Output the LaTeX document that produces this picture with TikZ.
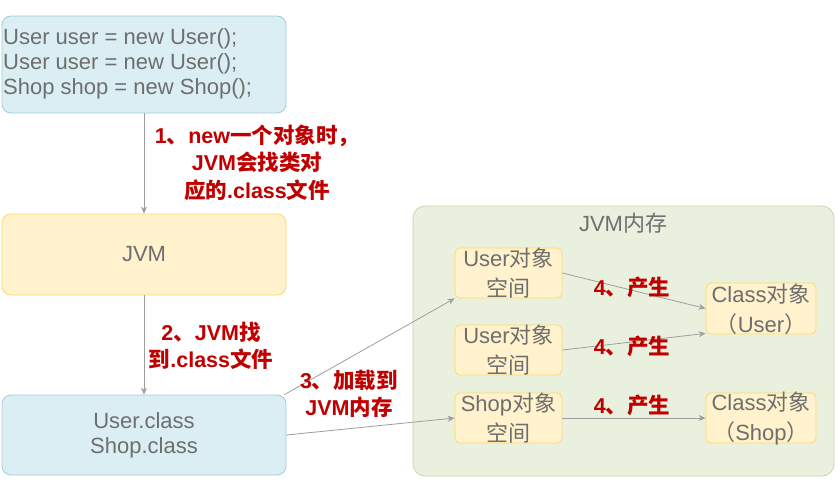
\documentclass[tikz,border=0pt]{standalone}
\usepackage{fontspec}
\setmainfont{Liberation Sans}
\newfontfamily\cjk{Noto Sans CJK SC}
\newcommand\zh[1]{{\cjk #1}}
\usetikzlibrary{arrows.meta}
\definecolor{bluefill}{RGB}{218,238,243}
\definecolor{blueline}{RGB}{160,205,222}
\definecolor{yelfill}{RGB}{255,242,204}
\definecolor{yelline}{RGB}{255,217,102}
\definecolor{grnfill}{RGB}{233,241,222}
\definecolor{grnline}{RGB}{198,218,168}
\definecolor{txtgray}{RGB}{110,110,110}
\definecolor{arrgray}{RGB}{158,158,158}
\definecolor{lblred}{RGB}{192,0,0}
\begin{document}
\begin{tikzpicture}[x=1pt,y=-1pt,
  boxbase/.style={draw, line width=0.8pt, inner sep=0pt, anchor=center},
  bluebox/.style={boxbase, fill=bluefill, draw=blueline, rounded corners=9pt},
  yelbox/.style={boxbase, fill=yelfill, draw=yelline, rounded corners=9pt},
  smallbox/.style={boxbase, fill=yelfill, draw=yelline, rounded corners=5pt},
  grnbox/.style={boxbase, fill=grnfill, draw=grnline, rounded corners=12pt},
  gtext/.style={text=txtgray, inner sep=0pt, font=\fontsize{22}{25}\selectfont},
  stext/.style={text=txtgray, inner sep=0pt, align=center, font=\fontsize{22}{30}\selectfont},
  rtext/.style={text=lblred, inner sep=0pt, align=center, font=\fontsize{21.5}{27.5}\selectfont\bfseries},
  arr/.style={draw=arrgray, line width=0.8pt, -{Stealth[length=7pt,width=6pt]}}
]
\useasboundingbox (0,0) rectangle (836,493);
\fill[white] (0,0) rectangle (836,493);

% left column
\node[bluebox, minimum width=284, minimum height=97] (code) at (144,64.5) {};
\node[gtext, align=left, anchor=west] (codet) at (3,64) {User user = new User();\\User user = new User();\\Shop shop = new Shop();};
\node[yelbox, minimum width=284, minimum height=81] (jvm) at (144,254.5) {};
\node[gtext] (jvmt) at (144,254) {JVM};
\node[bluebox, minimum width=284, minimum height=80] (cls) at (144,435) {};
\node[gtext, align=center] (clst) at (144,435.5) {User.class\\Shop.class};

% memory area
\node[grnbox, minimum width=421, minimum height=270] (mem) at (623.5,341) {};
\node[gtext] (memt) at (623,223) {JVM\zh{内存}};

\node[smallbox, minimum width=107, minimum height=50] (u1) at (508.5,273) {};
\node[stext] (u1t) at (508.5,273) {User\zh{对象}\\\zh{空间}};
\node[smallbox, minimum width=107, minimum height=50] (u2) at (508.5,350) {};
\node[stext] (u2t) at (508.5,350) {User\zh{对象}\\\zh{空间}};
\node[smallbox, minimum width=107, minimum height=50] (sp) at (508.5,418) {};
\node[stext] (spt) at (508.5,418) {Shop\zh{对象}\\\zh{空间}};
\node[smallbox, minimum width=110, minimum height=51] (cu) at (761,308.5) {};
\node[stext] (cut) at (761,309) {Class\zh{对象}\\\zh{（}User\zh{）}};
\node[smallbox, minimum width=110, minimum height=50] (cs) at (761,418) {};
\node[stext] (cst) at (761,418) {Class\zh{对象}\\\zh{（}Shop\zh{）}};

% connectors
\draw[arr] (code.south) -- (jvm.north);
\draw[arr] (jvm.south) -- (cls.north);
\draw[arr] ([xshift=-2pt]cls.north east) -- (u1.south west);
\draw[arr] (cls.east) -- (sp.west);
\draw[arr] (u1.east) -- (cu.west);
\draw[arr] (u2.east) -- ([yshift=1pt]cu.south west);
\draw[arr] (sp.east) -- (cs.west);

% labels
\node[rtext] (l1) at (257,162.5) {1\zh{、}new\zh{一个对象时，}\\JVM\zh{会找类对}\\\zh{应的}.class\zh{文件}};
\node[rtext] (l2) at (211,346) {2\zh{、}JVM\zh{找}\\\zh{到}.class\zh{文件}};
\node[rtext] (l3) at (349,394) {3\zh{、加载到}\\JVM\zh{内存}};
\node[rtext] (l4a) at (632,287) {4\zh{、产生}};
\node[rtext] (l4b) at (632,346) {4\zh{、产生}};
\node[rtext] (l4c) at (632,405) {4\zh{、产生}};
\end{tikzpicture}
\end{document}
